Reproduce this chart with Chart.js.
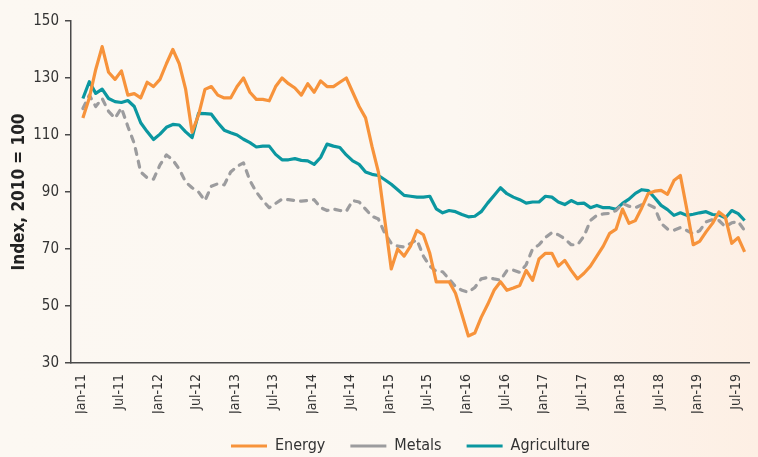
<!DOCTYPE html>
<html>
<head>
<meta charset="utf-8">
<script src="https://cdn.jsdelivr.net/npm/chart.js@4"></script>
<style>
  html, body { margin: 0; padding: 0; }
  body {
    width: 758px; height: 457px; overflow: hidden;
    background: linear-gradient(to right, #fcf8f2 0%, #fcf7f1 60%, #fdefe4 100%);
  }
  canvas { display: block; }
</style>
</head>
<body>
<canvas id="chart" width="758" height="457"></canvas>
<script>
// monthly index values, Jan-11 .. Aug-19 (2010 = 100)
const energy = [
  116, 123, 133, 141, 132, 129.5, 132.5, 124, 124.5, 123,
  128.5, 127, 129.5, 135, 140, 135, 126, 111, 117, 126,
  127, 124, 123, 123, 127, 130, 125, 122.5, 122.5, 122,
  127, 130, 128, 126.5, 124, 128, 125, 129, 127, 127,
  128.5, 130, 125, 120, 116, 106, 97, 80, 63, 70,
  67.5, 71, 76.5, 75, 68.5, 58.5, 58.5, 58.5, 54.5, 47,
  39.5, 40.5, 46, 50.5, 55.5, 58.5, 55.5, 56.3, 57.2, 62.5,
  59, 66.5, 68.5, 68.5, 64, 66, 62.5, 59.5, 61.5, 64,
  67.5, 71, 75.5, 77, 84, 79, 80, 84.5, 89.5, 90.3,
  90.6, 89.2, 94, 95.8, 84, 71.5, 72.7, 76, 79, 83,
  81.2, 72, 74, 69
];
const metals = [
  119.3, 124, 120, 122.8, 118.3, 115.9, 119.5, 113, 107, 97,
  95, 94.5, 99.5, 103, 101.2, 98, 93.5, 91.5, 90, 87,
  92, 92.9, 92.5, 97, 99, 100.2, 94, 90, 87, 84.5,
  86, 87.5, 87.3, 87, 86.8, 87, 87.3, 84.5, 83.5, 84,
  83.5, 83.2, 87, 86.5, 84, 81.5, 80.5, 75.5, 72, 71,
  70.7, 72, 73.2, 67.5, 64, 62.2, 62, 59.5, 56.8, 55.5,
  54.8, 56.5, 59.5, 60, 59.5, 59.1, 62.4, 62.6, 61.8, 64.5,
  70, 71.5, 74, 75.8, 75, 73.6, 71.5, 71.5, 74.5, 80,
  81.8, 82.3, 82.5, 83.5, 86, 85, 84.5, 85.5, 85.6, 84.5,
  79, 77, 76.6, 77.5, 76.5, 75.3, 76.4, 79.5, 80.3, 80,
  77.8, 79.2, 79.6, 76.5
];
const agriculture = [
  122.8, 128.7, 124.6, 126.1, 122.8, 121.7, 121.4, 122.1, 120, 114.3,
  111.2, 108.4, 110.3, 112.7, 113.7, 113.5, 111.1, 109.1, 117.6, 117.5,
  117.3, 114.3, 111.7, 110.8, 110, 108.5, 107.3, 105.8, 106.1, 106.1,
  103.2, 101.3, 101.3, 101.7, 101.1, 100.9, 99.7, 102.1, 106.8, 106.1,
  105.6, 103, 100.9, 99.7, 97, 96.2, 95.8, 94.3, 92.7, 90.8,
  88.8, 88.5, 88.2, 88.2, 88.5, 84.1, 82.7, 83.5, 83.1, 82.1,
  81.3, 81.5, 83.1, 86.1, 88.8, 91.5, 89.4, 88.2, 87.3, 86.1,
  86.5, 86.5, 88.5, 88.2, 86.5, 85.6, 87, 85.9, 86.1, 84.5,
  85.3, 84.5, 84.5, 83.9, 86, 87.5, 89.5, 90.8, 90.5, 88,
  85.3, 83.8, 81.8, 82.7, 81.8, 82.2, 82.7, 83.1, 82.1, 82,
  80.9, 83.5, 82.4, 80
];
const tickLabels = [
  'Jan-11', 'Jul-11', 'Jan-12', 'Jul-12', 'Jan-13', 'Jul-13', 'Jan-14', 'Jul-14', 'Jan-15',
  'Jul-15', 'Jan-16', 'Jul-16', 'Jan-17', 'Jul-17', 'Jan-18', 'Jul-18', 'Jan-19', 'Jul-19'
];
const yTicks = [30, 50, 70, 90, 110, 130, 150];

const FONT = '"Liberation Sans Narrow", "DejaVu Sans Condensed", "Roboto Condensed", "Liberation Sans", sans-serif';
const inkColor = '#333333';
const axisColor = '#4a4a4a';

const monthIndex = energy.map((_, i) => i);

function series(label, values, color, dash) {
    return {
        label: label,
        data: values,
        borderColor: color,
        backgroundColor: color,
        borderWidth: 3.2,
        borderDash: dash,
        borderCapStyle: dash.length ? 'round' : 'butt',
        borderJoinStyle: 'round',
        pointRadius: 0,
        tension: 0,
        fill: false
    };
}

new Chart(document.getElementById('chart'), {
    type: 'line',
    data: {
        labels: monthIndex,
        datasets: [
            series('Energy', energy, '#f7933b', []),
            series('Metals', metals, '#9c9c9e', [6, 7]),
            series('Agriculture', agriculture, '#0b97a0', [])
        ]
    },
    options: {
        responsive: false,
        animation: false,
        devicePixelRatio: 1,
        layout: { padding: { top: 21, right: 1, left: 0, bottom: -7 } },
        plugins: {
            tooltip: { enabled: false },
            legend: {
                position: 'bottom',
                fullSize: false,
                labels: {
                    usePointStyle: true,
                    pointStyle: 'line',
                    pointStyleWidth: 36,
                    boxHeight: 12,
                    padding: 25,
                    color: inkColor,
                    font: { family: FONT, size: 16 }
                }
            }
        },
        scales: {
            x: {
                type: 'linear',
                min: -1.85,
                max: 103.8,
                afterBuildTicks: (scale) => {
                    scale.ticks = tickLabels.map((_, i) => ({ value: i * 6 }));
                },
                afterFit: (scale) => { scale.height = 50; },
                grid: { display: false },
                border: { display: true, color: axisColor, width: 1.5 },
                ticks: {
                    minRotation: 90,
                    maxRotation: 90,
                    autoSkip: false,
                    padding: 3,
                    labelOffset: -2,
                    color: inkColor,
                    font: { family: FONT, size: 14 },
                    callback: (value) => tickLabels[Math.round(value / 6)]
                }
            },
            y: {
                min: 30,
                max: 150,
                afterBuildTicks: (scale) => {
                    scale.ticks = yTicks.map(v => ({ value: v }));
                },
                afterFit: (scale) => { scale.width = 71; },
                grid: {
                    drawOnChartArea: false,
                    drawTicks: true,
                    tickLength: 6,
                    tickColor: axisColor,
                    lineWidth: 1.5
                },
                border: { display: true, color: axisColor, width: 1.5 },
                ticks: {
                    padding: 6,
                    color: inkColor,
                    font: { family: FONT, size: 15 }
                },
                title: {
                    display: true,
                    text: 'Index, 2010 = 100',
                    color: '#222222',
                    padding: { top: 9, bottom: 0 },
                    font: { family: FONT, size: 17, weight: 'bold' }
                }
            }
        }
    }
});
</script>
</body>
</html>
